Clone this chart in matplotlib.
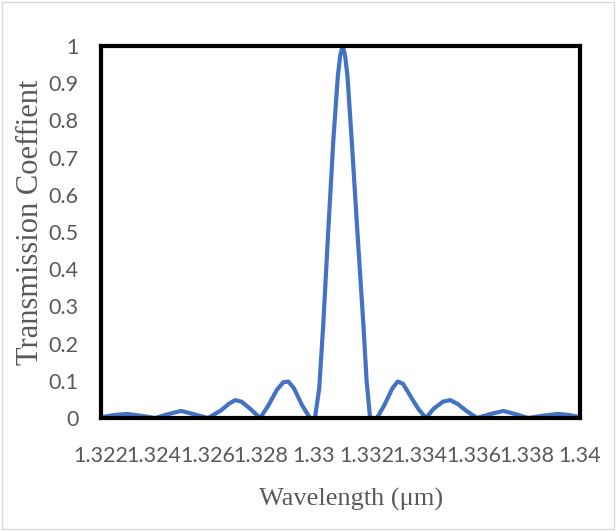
import matplotlib
matplotlib.use("Agg")
import matplotlib.pyplot as plt
from matplotlib.patches import Rectangle

# значения
wavelength = [1.32200, 1.32250, 1.32297, 1.32350, 1.32403,
              1.32450, 1.32501, 1.32550, 1.32602,
              1.32650, 1.32680, 1.32704, 1.32728, 1.32760, 1.32798,
              1.32830, 1.32860, 1.32885, 1.32904, 1.32925, 1.32955, 1.32985,
              1.33004, 1.33020, 1.33035, 1.33054, 1.33073, 1.33090, 1.33099,
              1.33108,
              1.33117, 1.33126, 1.33142, 1.33163, 1.33186, 1.33198, 1.33211,
              1.33237, 1.33265, 1.33295, 1.33315, 1.33335, 1.33370, 1.33395, 1.33421,
              1.33450, 1.33485, 1.33512, 1.33540, 1.33575, 1.33613,
              1.33660, 1.33712, 1.33760, 1.33805,
              1.33860, 1.33917, 1.33960, 1.34000]
transmission = [0.002, 0.008, 0.011, 0.006, 0.0,
                0.010, 0.019, 0.010, 0.0,
                0.020, 0.038, 0.048, 0.044, 0.025, 0.0,
                0.035, 0.075, 0.096, 0.098, 0.080, 0.035, 0.0,
                0.0, 0.08, 0.25, 0.505, 0.747, 0.92, 0.975,
                1.0,
                0.975, 0.92, 0.747, 0.505, 0.25, 0.10, 0.0,
                0.0, 0.035, 0.080, 0.098, 0.092, 0.050, 0.022, 0.0,
                0.025, 0.044, 0.048, 0.038, 0.018, 0.0,
                0.010, 0.019, 0.010, 0.0,
                0.006, 0.011, 0.008, 0.002]

x_ticks = [1.322, 1.324, 1.326, 1.328, 1.33, 1.332, 1.334, 1.336, 1.338, 1.34]
x_tick_labels = ['1.322', '1.324', '1.326', '1.328', '1.33', '1.332', '1.334', '1.336', '1.338', '1.34']
y_ticks = [0, 0.1, 0.2, 0.3, 0.4, 0.5, 0.6, 0.7, 0.8, 0.9, 1]
y_tick_labels = ['0', '0.1', '0.2', '0.3', '0.4', '0.5', '0.6', '0.7', '0.8', '0.9', '1']

fig = plt.figure(figsize=(6.16, 5.31), dpi=100)
ax = fig.add_axes([0.164, 0.2128, 0.7776, 0.7006])

ax.plot(wavelength, transmission, color='#4472C4', linewidth=3, solid_joinstyle='round', zorder=2)

ax.set_xlim(1.322, 1.34)
ax.set_ylim(0, 1)
ax.set_xticks(x_ticks)
ax.set_xticklabels(x_tick_labels)
ax.set_yticks(y_ticks)
ax.set_yticklabels(y_tick_labels)
ax.tick_params(length=0, colors='#595959', labelsize=15.5, pad=16)
ax.tick_params(axis='x', pad=20)
for lbl in ax.get_xticklabels() + ax.get_yticklabels():
    lbl.set_family('Lato')

for sp in ax.spines.values():
    sp.set_linewidth(3)
    sp.set_color('black')
    sp.set_zorder(3)

ax.set_xlabel('Wavelength (μm)', family='Liberation Serif', fontsize=19, color='#595959',
              labelpad=16, x=0.522)
ax.set_ylabel('Transmission Coeffient', family='Liberation Serif', fontsize=22, color='#595959',
              labelpad=3, y=0.527)

# серая рамка вокруг всей диаграммы
fig.patches.append(Rectangle((0.003, 0.003), 0.994, 0.994, transform=fig.transFigure,
                             fill=False, edgecolor='#d9d9d9', linewidth=1))

fig.savefig('out.png', dpi=100)
